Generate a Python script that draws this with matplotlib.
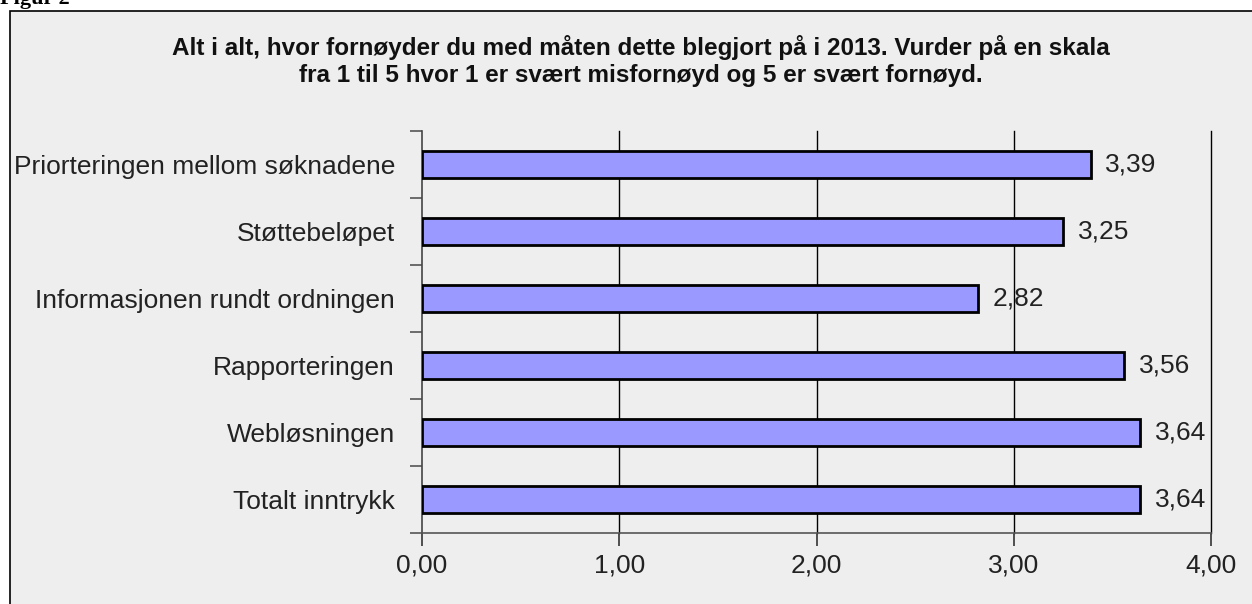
import matplotlib
matplotlib.use("Agg")
import matplotlib.pyplot as plt
from matplotlib.patches import Rectangle
from matplotlib.ticker import FuncFormatter, FixedLocator

# data
categories = ["Priorteringen mellom søknadene", "Støttebeløpet",
              "Informasjonen rundt ordningen", "Rapporteringen",
              "Webløsningen", "Totalt inntrykk"]
values = [3.39, 3.25, 2.82, 3.56, 3.64, 3.64]
xticks = [0, 1, 2, 3, 4]

title = ("Alt i alt, hvor fornøyder du med måten dette blegjort på i 2013. Vurder på en skala\n"
         "fra 1 til 5 hvor 1 er svært misfornøyd og 5 er svært fornøyd.")

plt.rcParams['font.family'] = ['Liberation Sans', 'DejaVu Sans']

W, H = 1252, 604
fig = plt.figure(figsize=(W / 100, H / 100), dpi=100)
fig.patch.set_facecolor("white")

# grey chart box (document frame)
box = Rectangle((10 / W, -0.05), 1.1, 1 - 11 / H + 0.05, transform=fig.transFigure,
                facecolor="#eeeeee", edgecolor="black", linewidth=1.2, zorder=0)
fig.add_artist(box)

# caption above the box, cut off at the top in the original
fig.text(0.0, 1 - 4 / H, "Figur 2", family=["Liberation Serif", "DejaVu Serif"],
         fontweight="bold", fontsize=16, ha="left", va="baseline")

ax = fig.add_axes([422 / W, 1 - 533 / H, (1211 - 422) / W, (533 - 131) / H])
ax.set_facecolor("none")

ypos = list(range(len(categories)))
ax.barh(ypos, values, height=0.4, color="#9999ff", edgecolor="black",
        linewidth=2, zorder=3)
for y, v in zip(ypos, values):
    ax.text(v + 0.075, y, f"{v:.2f}".replace(".", ","), va="center", ha="left",
            fontsize=19, color="#222222", zorder=4)

ax.set_xlim(0, 4)
ax.set_ylim(len(categories) - 0.5, -0.5)
ax.set_xticks(xticks)
ax.xaxis.set_major_formatter(FuncFormatter(lambda v, p: f"{v:.2f}".replace(".", ",")))
ax.set_yticks(ypos)
ax.set_yticklabels(categories)
ax.yaxis.set_minor_locator(FixedLocator([i - 0.5 for i in range(len(categories) + 1)]))
ax.tick_params(axis="y", which="major", length=0, pad=19.5, labelsize=19, labelcolor="#222222")
ax.tick_params(axis="y", which="minor", length=9, width=1.2, color="#555555")
ax.tick_params(axis="x", length=9, width=1.2, color="#333333", pad=6,
               labelsize=19, labelcolor="#222222")

# vertical gridlines at 1..4
for x in xticks[1:]:
    ax.axvline(x, color="black", linewidth=1, zorder=1, clip_on=False)

for s in ["top", "right"]:
    ax.spines[s].set_visible(False)
ax.spines["left"].set_color("#444444")
ax.spines["bottom"].set_color("#555555")
ax.spines["left"].set_linewidth(1.2)
ax.spines["bottom"].set_linewidth(1.2)

fig.text(641 / W, 1 - 61 / H, title, ha="center", va="center", fontsize=17.5,
         fontweight="bold", linespacing=1.2, color="#111111")

fig.savefig("out.png", dpi=100)
